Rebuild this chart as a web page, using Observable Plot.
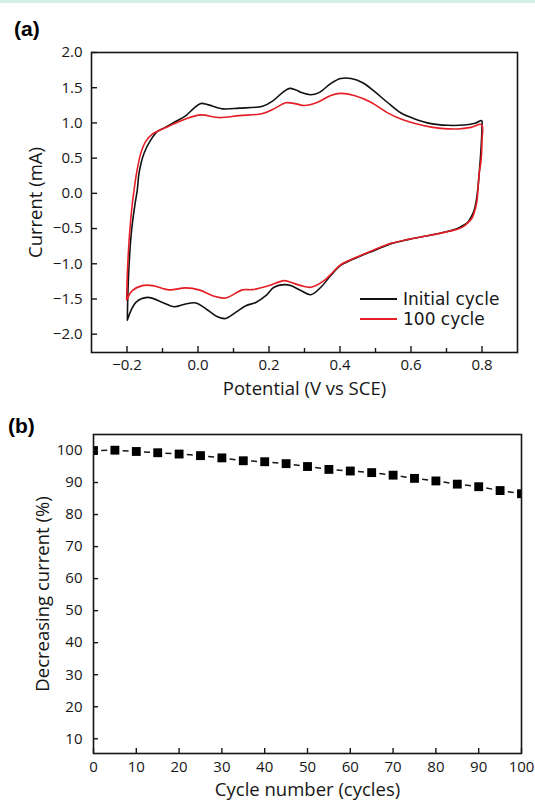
<!DOCTYPE html>
<html>
<head>
<meta charset="utf-8">
<script src="https://cdn.jsdelivr.net/npm/d3@7"></script>
<script src="https://cdn.jsdelivr.net/npm/@observablehq/plot@0.6"></script>
<style>
  html, body { margin: 0; padding: 0; background: #fff; }
  #wrap { position: relative; width: 535px; height: 803px; overflow: hidden; background: #fff; font-family: "Open Sans", sans-serif; color: #111; }
  #strip { position: absolute; left: 0; top: 0; width: 535px; height: 3px; background: #d6efe4; }
  .panel { position: absolute; left: 0; }
  .tag { position: absolute; font-family: "Liberation Sans", Arial, sans-serif; font-weight: bold; font-size: 21px; line-height: 24px; color: #000; }
  .legend { position: absolute; left: 360px; top: 289px; font-family: "DejaVu Sans", sans-serif; font-size: 17px; line-height: 20px; color: #161616; }
  .legend .row { display: flex; align-items: center; height: 20px; }
  .legend .sw { width: 37px; height: 0; border-top: 2px solid; margin-right: 6px; }
</style>
</head>
<body>
<div id="wrap">
  <div id="strip"></div>
  <div class="tag" style="left:14px;top:17px;">(a)</div>
  <div class="tag" style="left:8px;top:414px;">(b)</div>
  <div id="pa" class="panel" style="top:0px;"></div>
  <div id="pb" class="panel" style="top:400px;"></div>
  <div class="legend" id="legend"></div>
</div>
<script>
// ---------- Panel (a): cyclic voltammograms ----------
const seriesNames = ["Initial cycle", "100 cycle"];
const seriesColors = ["#111111", "#e41e24"];

const initialX = [-0.199, -0.198, -0.194, -0.187, -0.177, -0.171, -0.166, -0.152, -0.133, -0.114, -0.091, -0.063, -0.035, -0.011, 0.008, 0.027, 0.069, 0.116, 0.182, 0.210, 0.238, 0.258, 0.276, 0.289, 0.317, 0.341, 0.374, 0.402, 0.431, 0.464, 0.496, 0.534, 0.572, 0.609, 0.656, 0.703, 0.750, 0.783, 0.799, 0.800, 0.798, 0.794, 0.789, 0.784, 0.778, 0.770, 0.760, 0.745, 0.731, 0.684, 0.637, 0.591, 0.544, 0.497, 0.450, 0.403, 0.374, 0.346, 0.318, 0.290, 0.261, 0.243, 0.214, 0.191, 0.163, 0.135, 0.106, 0.078, 0.055, 0.027, -0.006, -0.035, -0.068, -0.100, -0.142, -0.175, -0.199];
const initialY = [-1.80, -1.52, -1.00, -0.52, -0.14, 0.05, 0.29, 0.57, 0.76, 0.88, 0.94, 1.02, 1.10, 1.21, 1.276, 1.26, 1.20, 1.21, 1.237, 1.31, 1.43, 1.49, 1.466, 1.437, 1.40, 1.43, 1.56, 1.63, 1.63, 1.57, 1.45, 1.29, 1.14, 1.06, 0.99, 0.966, 0.971, 1.00, 1.033, 0.95, 0.70, 0.40, 0.10, -0.10, -0.24, -0.33, -0.41, -0.46, -0.50, -0.563, -0.61, -0.657, -0.714, -0.81, -0.906, -1.02, -1.167, -1.334, -1.439, -1.38, -1.31, -1.296, -1.334, -1.453, -1.549, -1.596, -1.691, -1.777, -1.753, -1.657, -1.557, -1.571, -1.61, -1.549, -1.477, -1.549, -1.80];

const cycle100X = [-0.201, -0.199, -0.194, -0.187, -0.180, -0.173, -0.161, -0.147, -0.128, -0.100, -0.072, -0.035, 0.008, 0.059, 0.116, 0.182, 0.219, 0.247, 0.276, 0.299, 0.337, 0.374, 0.402, 0.440, 0.487, 0.534, 0.581, 0.637, 0.684, 0.731, 0.769, 0.799, 0.800, 0.797, 0.792, 0.786, 0.780, 0.772, 0.760, 0.745, 0.731, 0.684, 0.637, 0.591, 0.544, 0.497, 0.450, 0.403, 0.380, 0.355, 0.318, 0.290, 0.261, 0.243, 0.200, 0.153, 0.125, 0.078, 0.041, 0.003, -0.035, -0.082, -0.128, -0.157, -0.185, -0.201];
const cycle100Y = [-1.514, -1.14, -0.667, -0.24, 0.05, 0.286, 0.571, 0.737, 0.843, 0.914, 0.976, 1.057, 1.114, 1.076, 1.104, 1.133, 1.214, 1.286, 1.271, 1.247, 1.294, 1.39, 1.419, 1.39, 1.294, 1.143, 1.037, 0.961, 0.923, 0.914, 0.937, 0.976, 0.76, 0.45, 0.286, -0.096, -0.24, -0.35, -0.42, -0.48, -0.51, -0.565, -0.61, -0.655, -0.71, -0.80, -0.90, -1.01, -1.12, -1.24, -1.334, -1.31, -1.263, -1.239, -1.31, -1.367, -1.371, -1.486, -1.453, -1.371, -1.343, -1.371, -1.31, -1.31, -1.381, -1.514];

const cvXMajorTicks = [-0.2, 0.0, 0.2, 0.4, 0.6, 0.8];
const cvXMinorTicks = [-0.1, 0.1, 0.3, 0.5, 0.7];
const cvYTicks = [-2.0, -1.5, -1.0, -0.5, 0.0, 0.5, 1.0, 1.5, 2.0];
const cvXLabel = "Potential (V vs SCE)";
const cvYLabel = "Current (mA)";

// ---------- Panel (b): current retention ----------
const cycleNumbers = [0, 5, 10, 15, 20, 25, 30, 35, 40, 45, 50, 55, 60, 65, 70, 75, 80, 85, 90, 95, 100];
const currentPercent = [100.0, 100.1, 99.7, 99.3, 98.9, 98.4, 97.7, 96.8, 96.5, 95.9, 95.0, 94.1, 93.6, 93.1, 92.3, 91.3, 90.5, 89.5, 88.7, 87.5, 86.5];
const cycleXTicks = [0, 10, 20, 30, 40, 50, 60, 70, 80, 90, 100];
const cycleYTicks = [10, 20, 30, 40, 50, 60, 70, 80, 90, 100];
const cycleXLabel = "Cycle number (cycles)";
const cycleYLabel = "Decreasing current (%)";

// ---------- build tables ----------
const cvData = [
  ...initialX.map((x, i) => ({series: seriesNames[0], x, y: initialY[i]})),
  ...cycle100X.map((x, i) => ({series: seriesNames[1], x, y: cycle100Y[i]}))
];
const retention = cycleNumbers.map((c, i) => ({c, v: currentPercent[i]}));
const retentionLinks = retention.slice(1).map((d, i) => ({c1: retention[i].c, v1: retention[i].v, c2: d.c, v2: d.v}));

const fmt1 = d3.format(".1f");
const ink = "#161616";
const tickFont = 15;
const titleFont = 18.5;

// Panel a geometry
const aH = 400, aMT = 52, aMB = 48, aML = 91, aMR = 18;
const aIH = aH - aMT - aMB, aIW = 535 - aML - aMR;

const plotA = Plot.plot({
  width: 535, height: aH,
  marginTop: aMT, marginBottom: aMB, marginLeft: aML, marginRight: aMR,
  style: {fontFamily: "'Open Sans', sans-serif", fontSize: tickFont + "px", color: ink, background: "transparent", overflow: "visible"},
  x: {domain: [-0.3, 0.9], axis: null},
  y: {domain: [-2.26, 2.0], axis: null},
  color: {domain: seriesNames, range: seriesColors},
  marks: [
    Plot.line(cvData, {x: "x", y: "y", z: "series", stroke: "series", strokeWidth: 1.6, curve: "catmull-rom"}),
    Plot.frame({stroke: ink, strokeWidth: 1.6}),
    Plot.tickX(cvXMajorTicks, {x: d => d, stroke: ink, strokeWidth: 1.4, insetTop: aIH - 6}),
    Plot.tickX(cvXMinorTicks, {x: d => d, stroke: ink, strokeWidth: 1.4, insetTop: aIH - 4}),
    Plot.tickY(cvYTicks, {y: d => d, stroke: ink, strokeWidth: 1.4, insetRight: aIW - 6}),
    Plot.axisX(cvXMajorTicks, {anchor: "bottom", tickSize: 0, tickPadding: 7, tickFormat: fmt1, label: null, fontSize: tickFont}),
    Plot.axisY(cvYTicks, {anchor: "left", tickSize: 0, tickPadding: 9, tickFormat: fmt1, label: null, fontSize: tickFont}),
    Plot.text([cvXLabel], {text: d => d, frameAnchor: "bottom", textAnchor: "middle", lineAnchor: "middle", dy: 37, fontSize: titleFont, fill: ink}),
    Plot.text([cvYLabel], {text: d => d, frameAnchor: "left", textAnchor: "middle", lineAnchor: "middle", dx: -55, rotate: -90, fontSize: titleFont, fill: ink})
  ]
});
document.getElementById("pa").appendChild(plotA);

// Panel b geometry
const bH = 403, bMT = 34, bMB = 50, bML = 93, bMR = 14;
const bIH = bH - bMT - bMB, bIW = 535 - bML - bMR;
const segPx = bIW * 5 / 100;
const dashGap = (segPx - 6) / 2;

const plotB = Plot.plot({
  width: 535, height: bH,
  marginTop: bMT, marginBottom: bMB, marginLeft: bML, marginRight: bMR,
  style: {fontFamily: "'Open Sans', sans-serif", fontSize: tickFont + "px", color: ink, background: "transparent", overflow: "visible"},
  x: {domain: [0, 100], axis: null},
  y: {domain: [5.4, 105], axis: null},
  marks: [
    Plot.link(retentionLinks, {x1: "c1", y1: "v1", x2: "c2", y2: "v2", stroke: ink, strokeWidth: 1.5, strokeDasharray: `0 ${dashGap} 6 200`, clip: true}),
    Plot.dot(retention, {x: "c", y: "v", symbol: "square", r: 5, fill: "#000", stroke: "none", clip: true}),
    Plot.frame({stroke: ink, strokeWidth: 1.6}),
    Plot.tickX(cycleXTicks, {x: d => d, stroke: ink, strokeWidth: 1.4, insetTop: bIH - 5}),
    Plot.tickY(cycleYTicks, {y: d => d, stroke: ink, strokeWidth: 1.4, insetRight: bIW - 5}),
    Plot.axisX(cycleXTicks, {anchor: "bottom", tickSize: 0, tickPadding: 8, label: null, fontSize: tickFont}),
    Plot.axisY(cycleYTicks, {anchor: "left", tickSize: 0, tickPadding: 11, label: null, fontSize: tickFont}),
    Plot.text([cycleXLabel], {text: d => d, frameAnchor: "bottom", textAnchor: "middle", lineAnchor: "middle", dy: 37, fontSize: titleFont, fill: ink}),
    Plot.text([cycleYLabel], {text: d => d, frameAnchor: "left", textAnchor: "middle", lineAnchor: "middle", dx: -50, rotate: -90, fontSize: titleFont, fill: ink})
  ]
});
document.getElementById("pb").appendChild(plotB);

// Legend for panel (a)
const legend = document.getElementById("legend");
seriesNames.forEach((name, i) => {
  const row = document.createElement("div");
  row.className = "row";
  const sw = document.createElement("div");
  sw.className = "sw";
  sw.style.borderTopColor = seriesColors[i];
  const t = document.createElement("span");
  t.textContent = name;
  row.appendChild(sw);
  row.appendChild(t);
  legend.appendChild(row);
});
</script>
</body>
</html>
